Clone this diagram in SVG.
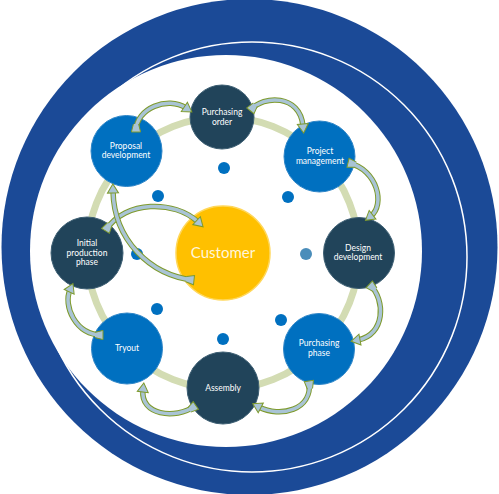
<svg xmlns="http://www.w3.org/2000/svg" width="499" height="494" viewBox="0 0 499 494">
<style>
.dark{fill:#21445A;stroke:#3d5f73;stroke-width:1}
.blue{fill:#0070C0;stroke:#2f86c8;stroke-width:1}
.lbl{font-family:Lato,"Open Sans",sans-serif;font-size:8.5px;fill:#ffffff;text-anchor:middle}
.dot{fill:#0070C0}
.sh-o{fill:none;stroke:#7E9A2C;stroke-width:5.5;stroke-linecap:butt}
.sh-i{fill:none;stroke:#A9C4D5;stroke-width:3.5;stroke-linecap:butt}
</style>
<defs>
<marker id="head" markerUnits="userSpaceOnUse" markerWidth="14" markerHeight="14" refX="2" refY="0" orient="auto" viewBox="-2 -7 14 14" overflow="visible">
<path d="M0,-5.5 L9,0 L0,5.5 Z" fill="#A9C4D5" stroke="#7E9A2C" stroke-width="1"/>
</marker>
<marker id="tail" markerUnits="userSpaceOnUse" markerWidth="14" markerHeight="14" refX="0" refY="0" orient="auto" viewBox="-3 -7 14 14" overflow="visible">
<path d="M7,-2.6 L-1,-4.6 L-1,4.6 L7,2.6" fill="#A9C4D5" stroke="#7E9A2C" stroke-width="1"/>
</marker>
</defs>
<g id="frame">
<circle cx="249.5" cy="247" r="248" fill="#1B4A97"/>
<circle cx="252" cy="257" r="215" fill="none" stroke="#ffffff" stroke-width="1.5"/>
<circle cx="226" cy="251" r="196" fill="#ffffff"/>
</g>
<circle id="ring" cx="223" cy="253" r="136" fill="none" stroke="#D3DCB3" stroke-width="7"/>
<g id="dots">
<circle class="dot" cx="224" cy="168" r="6"/>
<circle class="dot" cx="158" cy="196" r="6"/>
<circle class="dot" cx="288" cy="197" r="6"/>
<circle class="dot" cx="137" cy="254" r="6"/>
<circle cx="306" cy="254" r="6" fill="#4A8DBA"/>
<circle class="dot" cx="157" cy="309" r="6"/>
<circle class="dot" cx="281" cy="320" r="6"/>
<circle class="dot" cx="223" cy="339" r="6"/>
</g>
<g id="customer">
<circle cx="223" cy="253" r="47" fill="#FFC000" stroke="#FFD75A" stroke-width="1.5"/>
<text x="223" y="258" font-family="Lato,'Open Sans',sans-serif" font-size="15" fill="#FFF6DC" text-anchor="middle">Customer</text>
</g>
<g id="purchasing-order">
<circle class="dark" cx="222" cy="117" r="32"/>
<text class="lbl" x="222" y="115">Purchasing</text>
<text class="lbl" x="222" y="125">order</text>
</g>
<g id="project-management">
<circle class="blue" cx="319.5" cy="156.5" r="35.5"/>
<text class="lbl" x="320" y="154">Project</text>
<text class="lbl" x="320" y="164">management</text>
</g>
<g id="design-development">
<circle class="dark" cx="359" cy="253" r="35.5"/>
<text class="lbl" x="358" y="251">Design</text>
<text class="lbl" x="358" y="260">development</text>
</g>
<g id="purchasing-phase">
<circle class="blue" cx="319" cy="349" r="35.5"/>
<text class="lbl" x="319" y="346">Purchasing</text>
<text class="lbl" x="319" y="356">phase</text>
</g>
<g id="assembly">
<circle class="dark" cx="223" cy="388" r="36"/>
<text class="lbl" x="223" y="391">Assembly</text>
</g>
<g id="tryout">
<circle class="blue" cx="127" cy="348.5" r="35.5"/>
<text class="lbl" x="127" y="351">Tryout</text>
</g>
<g id="initial-production-phase">
<circle class="dark" cx="87" cy="253" r="36"/>
<text class="lbl" x="87" y="246">Initial</text>
<text class="lbl" x="87" y="256">production</text>
<text class="lbl" x="87" y="265">phase</text>
</g>
<g id="proposal-development">
<circle class="blue" cx="126.5" cy="151" r="35.5"/>
<text class="lbl" x="126" y="149">Proposal</text>
<text class="lbl" x="126" y="158">development</text>
</g>
<g id="connectors">
<path class="sh-o" d="M136,131 C136,108 168,96 186,108"/>
<path class="sh-i" d="M136,131 C136,108 168,96 186,108" marker-start="url(#tail)" marker-end="url(#head)"/>
<path class="sh-o" d="M251,110 C263,95 300,94 303,126"/>
<path class="sh-i" d="M251,110 C263,95 300,94 303,126" marker-start="url(#tail)" marker-end="url(#head)"/>
<path class="sh-o" d="M349,163 C378,170 385,205 371,216"/>
<path class="sh-i" d="M349,163 C378,170 385,205 371,216" marker-start="url(#tail)" marker-end="url(#head)"/>
<path class="sh-o" d="M370,285 C386,300 385,335 358,340"/>
<path class="sh-i" d="M370,285 C386,300 385,335 358,340" marker-start="url(#tail)" marker-end="url(#head)"/>
<path class="sh-o" d="M309,382 C313,410 280,418 259,407"/>
<path class="sh-i" d="M309,382 C313,410 280,418 259,407" marker-start="url(#tail)" marker-end="url(#head)"/>
<path class="sh-o" d="M195,406 C175,420 140,415 143,390"/>
<path class="sh-i" d="M195,406 C175,420 140,415 143,390" marker-start="url(#tail)" marker-end="url(#head)"/>
<path class="sh-o" d="M102,335 C75,335 63,305 70,290"/>
<path class="sh-i" d="M102,335 C75,335 63,305 70,290" marker-start="url(#tail)" marker-end="url(#head)"/>
<path class="sh-o" d="M106,230 C125,200 175,200 198,222"/>
<path class="sh-i" d="M106,230 C125,200 175,200 198,222" marker-start="url(#tail)" marker-end="url(#head)"/>
<path class="sh-o" d="M193,280 C150,275 114,240 113,191"/>
<path class="sh-i" d="M193,280 C150,275 114,240 113,191" marker-start="url(#tail)" marker-end="url(#head)"/>
</g>
</svg>
